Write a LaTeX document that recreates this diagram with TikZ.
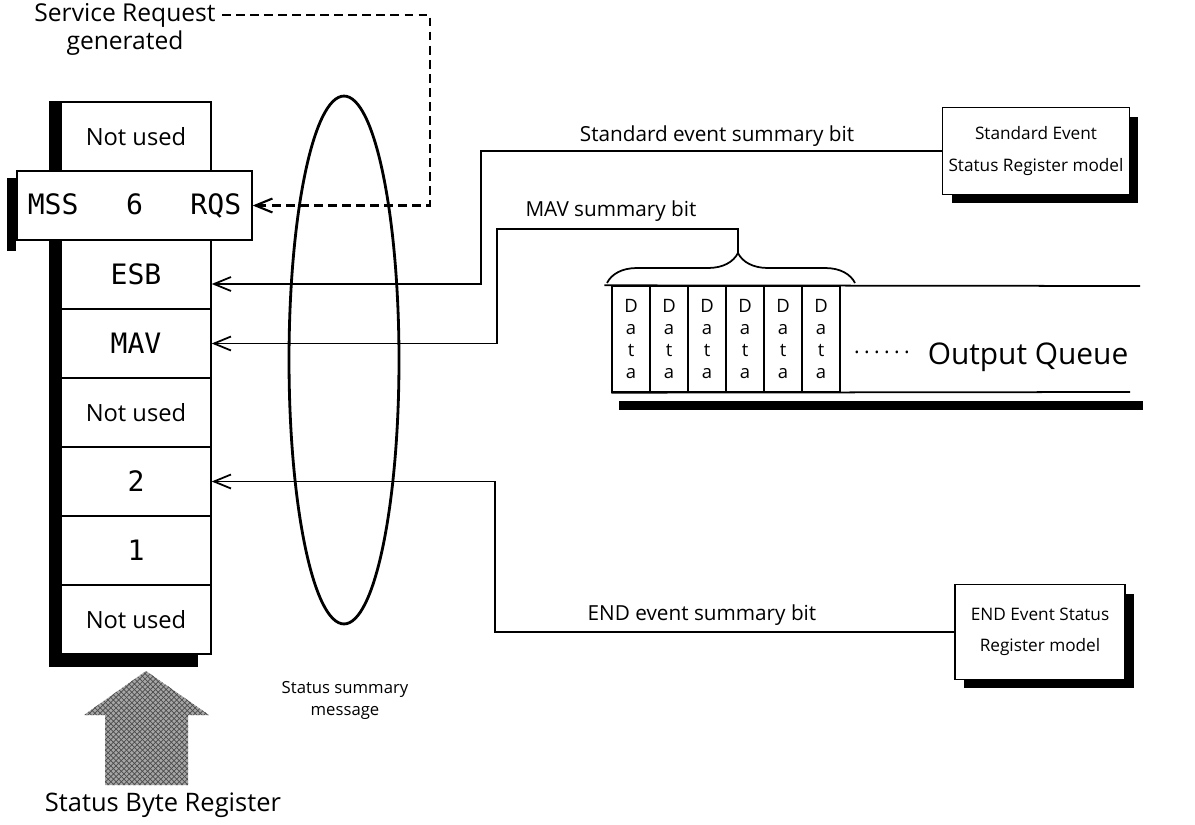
\documentclass[tikz,border=0pt]{standalone}
\usepackage{fontspec}
\setmainfont{Open Sans}
\setmonofont{DejaVu Sans Mono}
\usetikzlibrary{positioning,shapes.geometric,arrows.meta,decorations.pathreplacing,patterns,shadows,backgrounds}

\tikzset{
  regrow/.style={draw, line width=0.8pt, fill=white, minimum width=3cm, minimum height=1.38cm, inner sep=0pt, font=\fontsize{13.5}{15}\selectfont},
  regbit/.style={regrow, font=\ttfamily\fontsize{16}{18}\selectfont},
  modelbox/.style={draw, line width=0.8pt, fill=white, align=center, minimum width=3.56cm, minimum height=1.74cm, font=\fontsize{9.8}{18}\selectfont, drop shadow={shadow xshift=0.18cm, shadow yshift=-0.18cm, fill=black, opacity=1}},
  datacell/.style={draw, line width=0.8pt, minimum width=0.76cm, minimum height=2.12cm, inner sep=0pt, align=center, font=\fontsize{10.5}{12.5}\selectfont},
  sig/.style={line width=1pt, -{Straight Barb[length=3.4mm,width=2.8mm]}},
  lbl/.style={font=\fontsize{11.8}{14}\selectfont},
  biglbl/.style={font=\fontsize{14}{15}\selectfont},
}

\begin{document}
\begin{tikzpicture}[x=0.02cm, y=-0.02cm]
    \useasboundingbox (0,0) rectangle (1195,824);

    % Status byte register
    \node[regrow] (nu7) at (136,136.5) {Not used};
    \node[regbit, minimum width=4.7cm] (mss) at (134.5,205.5) {MSS\hspace{0.95cm}6\hspace{0.95cm}RQS};
    \node[regbit] (esb) at (136,274.5) {ESB};
    \node[regbit] (mav) at (136,343.5) {MAV};
    \node[regrow] (nu3) at (136,412.5) {Not used};
    \node[regbit] (b2) at (136,481.5) {2};
    \node[regbit] (b1) at (136,550.5) {1};
    \node[regrow] (nu0) at (136,619.5) {Not used};

    % Register shadows
    \begin{pgfonlayer}{background}
        \fill ([xshift=-0.22cm]nu7.north west) rectangle ([yshift=-0.24cm]nu0.south west);
        \fill ([yshift=-0.24cm]nu0.south west) rectangle ([xshift=-0.28cm]nu0.south east);
        \fill ([xshift=-0.18cm,yshift=-0.16cm]mss.north west) rectangle ([yshift=-0.2cm]mss.south west);
    \end{pgfonlayer}

    % Service request
    \node[biglbl] (sr) at (125,15) {Service Request};
    \node[biglbl] (srgen) at (125,43) {generated};
    \coordinate (srtop) at (430,15);
    \draw[sig, line width=1.2pt, dash pattern=on 5pt off 3pt] (sr.east) -- (srtop) |- (mss.east);

    % Status summary message
    \node[ellipse, draw, line width=1.6pt, minimum width=2.2cm, minimum height=10.56cm] (ssm) at (344,360) {};
    \node[font=\fontsize{9.5}{12.5}\selectfont, align=center] (ssmlbl) at (345,700) {Status summary\\message};

    % Event status register models
    \node[modelbox] (ser) at (1036,151) {Standard Event\\Status Register model};
    \node[modelbox, minimum width=3.4cm, minimum height=1.9cm] (esr) at (1040,632) {END Event Status\\Register model};

    % Output queue
    \foreach \i in {0,...,5}
        \node[datacell] (d\i) at ({631+38*\i},339) {D\\a\\t\\a};
    \coordinate (qtop) at (1140,286);
    \coordinate (qbot) at (1130,392);
    \coordinate (qbar) at (1143,410);
    \draw[line width=1pt] ([xshift=-0.14cm]d0.north west) -- (qtop);
    \draw[line width=1pt] (d0.south west) -- (qbot);
    \fill ([xshift=0.16cm,yshift=-0.16cm]d0.south west) rectangle (qbar);
    \node[font=\fontsize{12}{14}\selectfont] (qdots) at (882,352) {.\hspace{2.5pt}.\hspace{2.5pt}.\hspace{2.5pt}.\hspace{2.5pt}.\hspace{2.5pt}.};
    \node[font=\fontsize{17}{19}\selectfont] (oq) at (1028,357) {Output Queue};
    \draw[line width=1pt, decorate, decoration={brace, amplitude=0.6cm, aspect=0.528}] (607,283) -- (855,283);
    \coordinate (bractip) at (738,253);

    % Connections
    \coordinate (esbturn) at (481,284);
    \coordinate (mavturn) at (497,229);
    \coordinate (endturn) at (495,632);
    \draw[sig] (ser.west) -| (esbturn) -- (esbturn -| esb.east);
    \draw[sig] (bractip) |- (mavturn) |- (mav.east);
    \draw[sig] (esr.west) -- (endturn) |- (b2.east);

    % Connection labels
    \node[lbl] (serlbl) at (717,136) {Standard event summary bit};
    \node[lbl] (mavlbl) at (611,211) {MAV summary bit};
    \node[lbl] (esrlbl) at (702,615) {END event summary bit};

    % Register arrow
    \fill[gray!70, postaction={pattern=crosshatch, pattern color=black!70}]
        (105,785) -- (105,715) -- (84,715) -- (146,671) -- (209,715) -- (188,715) -- (188,785) -- cycle;
    \node[font=\fontsize{14.5}{16}\selectfont] (sbr) at (163,805) {Status Byte Register};
\end{tikzpicture}
\end{document}
